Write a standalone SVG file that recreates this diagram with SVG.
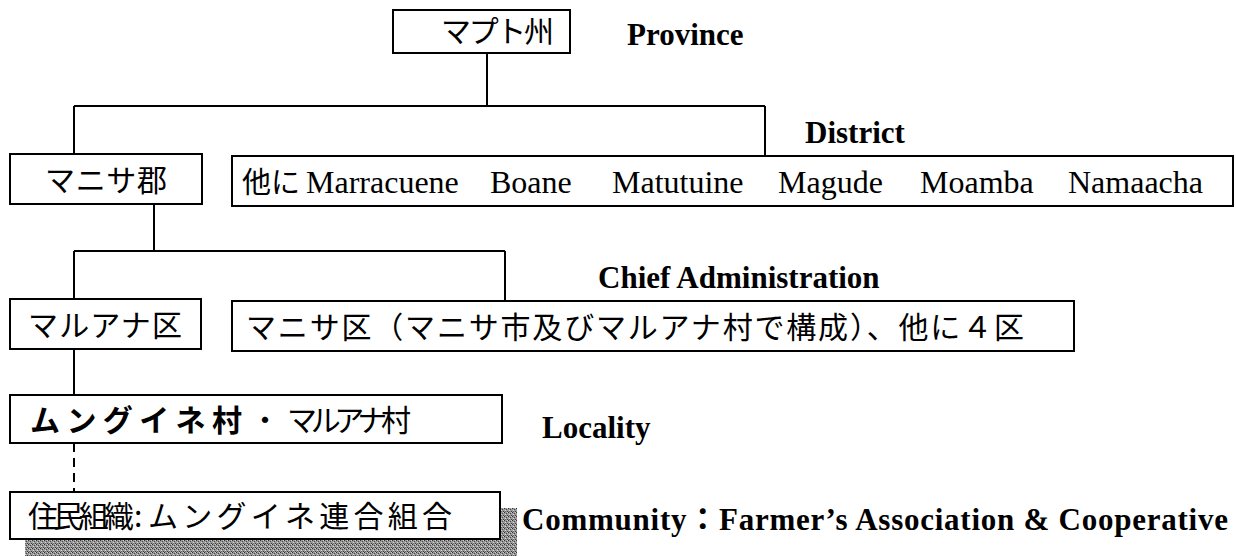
<svg xmlns="http://www.w3.org/2000/svg" width="1236" height="556" viewBox="0 0 1236 556">
<defs>
<style>
.box{fill:#fff;stroke:#000;stroke-width:2}
.ln{fill:none;stroke:#000;stroke-width:2}
.jp{font-family:"Noto Sans CJK JP",sans-serif;font-size:30px;fill:#000}
.lt{font-family:"Liberation Serif","Noto Sans CJK JP",serif;font-size:32px;fill:#000}
.lb{font-family:"Liberation Serif","Noto Sans CJK JP",serif;font-size:31px;font-weight:bold;fill:#000}
</style>
<pattern id="dither" width="4" height="4" patternUnits="userSpaceOnUse">
<rect width="4" height="4" fill="#9a9a9a"/>
<rect x="0" y="0" width="1" height="1" fill="#333"/>
<rect x="2" y="1" width="1" height="1" fill="#444"/>
<rect x="1" y="2" width="1" height="1" fill="#d8d8d8"/>
<rect x="3" y="3" width="1" height="1" fill="#3a3a3a"/>
<rect x="3" y="0" width="1" height="1" fill="#ccc"/>
<rect x="1" y="3" width="1" height="1" fill="#666"/>
</pattern>
</defs>
<rect width="1236" height="556" fill="#fff"/>

<g id="connectors">
<path class="ln" d="M487 53V106M74 106H765M74 106V154M765 106V156M154 204V251M74 251H505M74 251V300M505 251V301M74 349V395"/>
<path class="ln" d="M74 443V492" stroke-dasharray="9 6"/>
</g>

<g id="province">
<rect class="box" x="393" y="10" width="177" height="43"/>
<text class="jp" x="441" y="42" font-size="28" textLength="113">マプト州</text>
</g>
<text class="lb" x="627" y="45">Province</text>

<text class="lb" x="805" y="143">District</text>

<g id="manhica-district">
<rect class="box" x="10" y="154" width="192" height="50"/>
<text class="jp" x="45" y="191" textLength="122">マニサ郡</text>
</g>

<g id="other-districts">
<rect class="box" x="232" y="156" width="1001" height="50"/>
<text class="lt" y="193"><tspan class="jp" x="242" style="font-size:29px">他に</tspan><tspan x="306">Marracuene</tspan><tspan x="490">Boane</tspan><tspan x="612">Matutuine</tspan><tspan x="778">Magude</tspan><tspan x="920">Moamba</tspan><tspan x="1068">Namaacha</tspan></text>
</g>

<text class="lb" x="598" y="288">Chief Administration</text>

<g id="marracuane-admin">
<rect class="box" x="10" y="299" width="191" height="50"/>
<text class="jp" x="28" y="336" textLength="154">マルアナ区</text>
</g>

<g id="manhica-admin">
<rect class="box" x="232" y="301" width="842" height="50"/>
<text class="jp" x="246" y="338" textLength="778">マニサ区（マニサ市及びマルアナ村で構成）、他に４区</text>
</g>

<g id="locality">
<rect class="box" x="10" y="395" width="492" height="48"/>
<text class="jp" x="30" y="431" font-weight="bold" textLength="212">ムングイネ村</text>
<text class="jp" x="250" y="431">・</text>
<text class="jp" x="287" y="431" font-size="28" textLength="124">マルアナ村</text>
</g>
<text class="lb" x="542" y="438">Locality</text>

<g id="community">
<rect x="25" y="508" width="492" height="60" fill="url(#dither)"/>
<rect class="box" x="10" y="492" width="490" height="47"/>
<text class="jp" x="28" y="527" textLength="106">住民組織</text>
<text class="jp" x="134" y="527">:</text>
<text class="jp" x="148" y="527" textLength="304">ムングイネ連合組合</text>
</g>
<text class="lb" x="522" y="530" textLength="706">Community：Farmer’s Association &amp; Cooperative</text>
</svg>
